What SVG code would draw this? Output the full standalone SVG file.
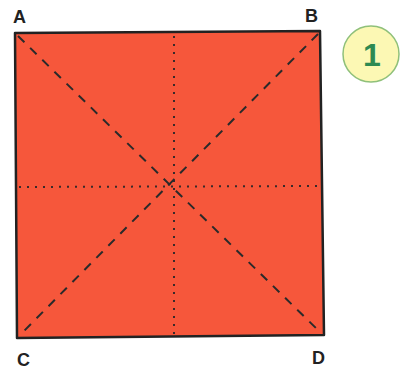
<svg xmlns="http://www.w3.org/2000/svg" width="400" height="370" viewBox="0 0 400 370">
<style>
.lbl{font-family:"Liberation Sans",Arial,sans-serif;font-weight:bold;font-size:18px;fill:#222}
.dash{stroke:#2a2a2a;stroke-width:2;stroke-dasharray:9,8;fill:none}
.dot{stroke:#3a2a2a;stroke-width:2;stroke-dasharray:2,6;fill:none}
</style>
<rect width="400" height="370" fill="#fff"/>
<g id="square">
<polygon points="15,33 320,31 324,335 17,338" fill="#f6573b" stroke="#222" stroke-width="2.5" stroke-linejoin="round"/>
</g>
<g id="connectors">
<line class="dot" x1="174" y1="36" x2="174" y2="334"/>
<line class="dot" x1="19" y1="187" x2="320" y2="186"/>
<line class="dash" x1="18" y1="36" x2="321" y2="333"/>
<line class="dash" x1="318" y1="34" x2="20" y2="335"/>
</g>
<g id="A"><text class="lbl" x="13" y="23">A</text></g>
<g id="B"><text class="lbl" x="305" y="22">B</text></g>
<g id="C"><text class="lbl" x="17" y="366">C</text></g>
<g id="D"><text class="lbl" x="312" y="364">D</text></g>
<g id="step1">
<circle cx="371" cy="54" r="28" fill="#fcf8b4" stroke="#8fc07a" stroke-width="1.5"/>
<text x="372" y="66" text-anchor="middle" font-family="Liberation Sans,Arial,sans-serif" font-weight="bold" font-size="32" fill="#2e8a52">1</text>
</g>
</svg>
